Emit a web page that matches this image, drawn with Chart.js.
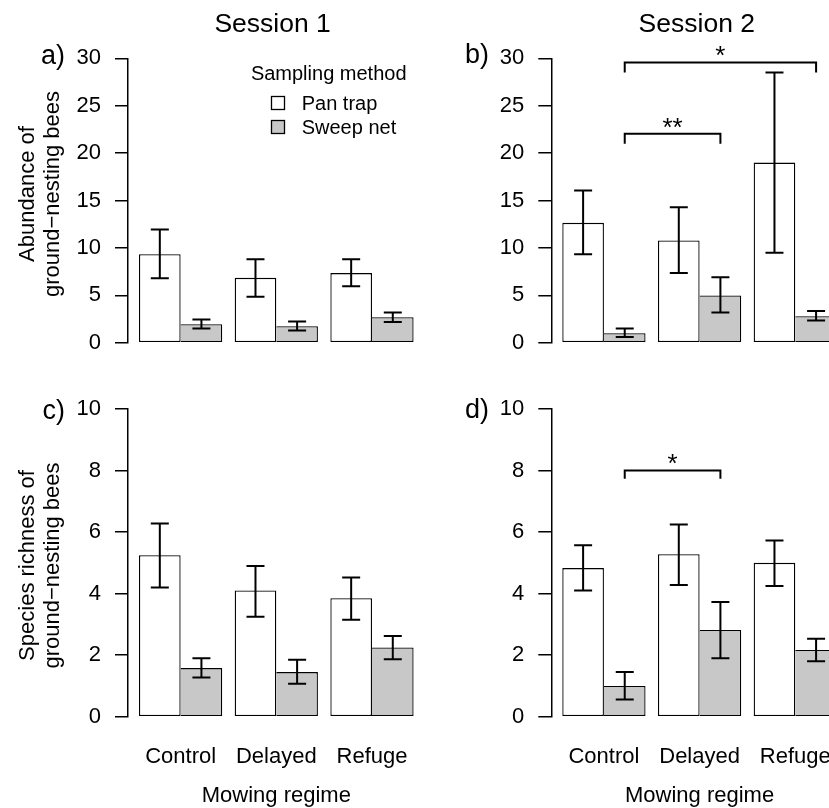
<!DOCTYPE html>
<html>
<head>
<meta charset="utf-8">
<script src="https://cdn.jsdelivr.net/npm/chart.js@4.4.0/dist/chart.umd.min.js"></script>
<style>
  html, body { margin: 0; padding: 0; background: #fff; overflow: hidden; }
  #wrap { position: relative; width: 829px; height: 808px; overflow: hidden; background: #fff; }
  canvas { position: absolute; }
</style>
</head>
<body>
<div id="wrap"></div>
<script>
// ---------- data ----------
const categories = ['Control', 'Delayed', 'Refuge'];
const seriesLabels = ['Pan trap', 'Sweep net'];
const yTicksAbundance = [0, 5, 10, 15, 20, 25, 30];
const yTicksRichness = [0, 2, 4, 6, 8, 10];

// a) Session 1 abundance
const abund1Pan = [9.35, 6.85, 7.35];
const abund1PanLo = [6.8, 4.85, 5.95];
const abund1PanHi = [11.95, 8.8, 8.8];
const abund1Sweep = [1.95, 1.75, 2.7];
const abund1SweepLo = [1.5, 1.3, 2.2];
const abund1SweepHi = [2.45, 2.25, 3.2];

// b) Session 2 abundance
const abund2Pan = [12.65, 10.8, 19.0];
const abund2PanLo = [9.35, 7.35, 9.5];
const abund2PanHi = [16.05, 14.3, 28.5];
const abund2Sweep = [1.0, 5.0, 2.8];
const abund2SweepLo = [0.6, 3.2, 2.35];
const abund2SweepHi = [1.5, 6.9, 3.35];

// c) Session 1 richness
const rich1Pan = [5.25, 4.1, 3.85];
const rich1PanLo = [4.2, 3.25, 3.15];
const rich1PanHi = [6.28, 4.9, 4.52];
const rich1Sweep = [1.58, 1.45, 2.25];
const rich1SweepLo = [1.27, 1.07, 1.87];
const rich1SweepHi = [1.9, 1.85, 2.62];

// d) Session 2 richness
const rich2Pan = [4.83, 5.28, 5.0];
const rich2PanLo = [4.1, 4.28, 4.25];
const rich2PanHi = [5.57, 6.25, 5.73];
const rich2Sweep = [1.0, 2.82, 2.17];
const rich2SweepLo = [0.56, 1.9, 1.8];
const rich2SweepHi = [1.45, 3.73, 2.53];

// significance brackets (sweep-net bars): from category, to category, bar level, tick end, label
const bracketsB = [
  { from: 0, to: 2, level: 29.55, drop: 28.5, label: '*' },
  { from: 0, to: 1, level: 22.05, drop: 21.0, label: '**' }
];
const bracketsD = [
  { from: 0, to: 1, level: 8.0, drop: 7.73, label: '*' }
];

// ---------- styling ----------
const FONT = "'Liberation Sans', Arial, Helvetica, sans-serif";
Chart.defaults.font.family = FONT;
Chart.defaults.color = '#000';
const PAN_COLOR = '#ffffff';
const SWEEP_COLOR = '#c8c8c8';

function errorBarsPlugin(errors, brackets) {
  return {
    id: 'errorBars',
    afterDatasetsDraw(chart) {
      const ctx = chart.ctx;
      const ys = chart.scales.y;
      ctx.save();
      ctx.strokeStyle = '#000';
      ctx.lineWidth = 2;
      ctx.lineCap = 'butt';
      const cap = 9;
      errors.forEach((err, di) => {
        const meta = chart.getDatasetMeta(di);
        meta.data.forEach((bar, i) => {
          const x = bar.x;
          const y1 = ys.getPixelForValue(err.lo[i]);
          const y2 = ys.getPixelForValue(err.hi[i]);
          ctx.beginPath();
          ctx.moveTo(x, y1); ctx.lineTo(x, y2);
          ctx.moveTo(x - cap, y1); ctx.lineTo(x + cap, y1);
          ctx.moveTo(x - cap, y2); ctx.lineTo(x + cap, y2);
          ctx.stroke();
        });
      });
      const sweepMeta = chart.getDatasetMeta(1);
      brackets.forEach(b => {
        const x1 = sweepMeta.data[b.from].x;
        const x2 = sweepMeta.data[b.to].x;
        const yl = ys.getPixelForValue(b.level);
        const yd = ys.getPixelForValue(b.drop);
        ctx.beginPath();
        ctx.moveTo(x1, yd); ctx.lineTo(x1, yl); ctx.lineTo(x2, yl); ctx.lineTo(x2, yd);
        ctx.stroke();
        const size = 26;
        ctx.font = size + 'px ' + FONT;
        ctx.fillStyle = '#000';
        ctx.textAlign = 'center';
        ctx.textBaseline = 'alphabetic';
        ctx.fillText(b.label, (x1 + x2) / 2, yl - 13 + 0.573 * size);
      });
      ctx.restore();
    }
  };
}

function decorPlugin(items, offX, offY, legend) {
  return {
    id: 'decor',
    afterDraw(chart) {
      const ctx = chart.ctx;
      ctx.save();
      ctx.fillStyle = '#000';
      ctx.textBaseline = 'alphabetic';
      items.forEach(t => {
        ctx.font = t.size + 'px ' + FONT;
        ctx.textAlign = t.align || 'center';
        if (t.rot) {
          ctx.save();
          ctx.translate(t.x - offX, t.y - offY);
          ctx.rotate(-Math.PI / 2);
          ctx.fillText(t.text, 0, 0);
          ctx.restore();
        } else {
          ctx.fillText(t.text, t.x - offX, t.y - offY);
        }
      });
      if (legend) {
        ctx.font = '20px ' + FONT;
        ctx.textAlign = 'center';
        ctx.fillText('Sampling method', 328.7 - offX, 79.5 - offY);
        ctx.textAlign = 'left';
        chart.data.datasets.forEach((ds, i) => {
          const by = 96.5 + i * 24 - offY;
          ctx.fillStyle = ds.backgroundColor;
          ctx.fillRect(271.5 - offX, by, 13, 13);
          ctx.strokeStyle = '#000';
          ctx.lineWidth = 1.3;
          ctx.strokeRect(271.5 - offX, by, 13, 13);
          ctx.fillStyle = '#000';
          ctx.fillText(ds.label, 301.7 - offX, by + 14 - 0.5 + 0);
        });
      }
      ctx.restore();
    }
  };
}

const panels = [
  { id: 'pa', left: 0, top: 0, w: 440, h: 370, area: { l: 128, r: 424.6, t: 58.3, b: 346.7 },
    pan: abund1Pan, panLo: abund1PanLo, panHi: abund1PanHi,
    sweep: abund1Sweep, sweepLo: abund1SweepLo, sweepHi: abund1SweepHi,
    yTicks: yTicksAbundance, bottomRow: false, brackets: [], legend: true,
    texts: [
      { text: 'Session 1', x: 272.6, y: 31.5, size: 26.5 },
      { text: 'a)', x: 65, y: 64, size: 27, align: 'right' },
      { text: 'Abundance of', x: 34, y: 194, size: 22, rot: true },
      { text: 'ground\u2212nesting bees', x: 59, y: 194, size: 22, rot: true }
    ] },
  { id: 'pb', left: 420, top: 0, w: 440, h: 370, area: { l: 131.3, r: 427.9, t: 58.3, b: 346.7 },
    pan: abund2Pan, panLo: abund2PanLo, panHi: abund2PanHi,
    sweep: abund2Sweep, sweepLo: abund2SweepLo, sweepHi: abund2SweepHi,
    yTicks: yTicksAbundance, bottomRow: false, brackets: bracketsB, legend: false,
    texts: [
      { text: 'Session 2', x: 696.8, y: 31.5, size: 26.5 },
      { text: 'b)', x: 489, y: 63, size: 27, align: 'right' }
    ] },
  { id: 'pc', left: 0, top: 370, w: 440, h: 438, area: { l: 128, r: 424.6, t: 39, b: 346.7 },
    pan: rich1Pan, panLo: rich1PanLo, panHi: rich1PanHi,
    sweep: rich1Sweep, sweepLo: rich1SweepLo, sweepHi: rich1SweepHi,
    yTicks: yTicksRichness, bottomRow: true, brackets: [], legend: false,
    texts: [
      { text: 'c)', x: 65, y: 419, size: 27, align: 'right' },
      { text: 'Species richness of', x: 34, y: 565.5, size: 22, rot: true },
      { text: 'ground\u2212nesting bees', x: 59, y: 565.5, size: 22, rot: true }
    ] },
  { id: 'pd', left: 420, top: 370, w: 440, h: 438, area: { l: 131.3, r: 427.9, t: 39, b: 346.7 },
    pan: rich2Pan, panLo: rich2PanLo, panHi: rich2PanHi,
    sweep: rich2Sweep, sweepLo: rich2SweepLo, sweepHi: rich2SweepHi,
    yTicks: yTicksRichness, bottomRow: true, brackets: bracketsD, legend: false,
    texts: [
      { text: 'd)', x: 489, y: 418, size: 27, align: 'right' }
    ] }
];

const wrap = document.getElementById('wrap');
const Y_AXIS_W = 128;

panels.forEach(p => {
  const cv = document.createElement('canvas');
  cv.id = p.id;
  cv.width = p.w; cv.height = p.h;
  cv.style.left = p.left + 'px';
  cv.style.top = p.top + 'px';
  cv.style.width = p.w + 'px';
  cv.style.height = p.h + 'px';
  wrap.appendChild(cv);

  const xHeight = p.h - p.area.b;
  const toXY = arr => arr.map((v, i) => ({ x: i + 1, y: v }));
  const yMin = p.yTicks[0];
  const yMax = p.yTicks[p.yTicks.length - 1];

  new Chart(cv, {
    type: 'bar',
    data: {
      datasets: [
        { label: seriesLabels[0], data: toXY(p.pan), backgroundColor: PAN_COLOR, borderColor: '#000',
          borderWidth: 1.3, borderSkipped: false, categoryPercentage: 0.87, barPercentage: 1.0 },
        { label: seriesLabels[1], data: toXY(p.sweep), backgroundColor: SWEEP_COLOR, borderColor: '#000',
          borderWidth: { top: 1.3, right: 1.3, bottom: 1.3, left: 0 }, borderSkipped: false,
          categoryPercentage: 0.87, barPercentage: 1.0 }
      ]
    },
    options: {
      responsive: false,
      animation: false,
      events: [],
      layout: { padding: { left: p.area.l - Y_AXIS_W, right: p.w - p.area.r, top: p.area.t, bottom: 0 } },
      plugins: { legend: { display: false }, tooltip: { enabled: false }, title: { display: false } },
      scales: {
        x: {
          type: 'linear',
          min: 0.45, max: 3.55,
          offset: false,
          afterBuildTicks: s => { s.ticks = categories.map((c, i) => ({ value: i + 1 })); },
          afterFit: s => { s.height = xHeight; },
          grid: { display: false, drawTicks: false },
          border: { display: false },
          ticks: {
            display: p.bottomRow, padding: 27, autoSkip: false, maxRotation: 0, minRotation: 0,
            font: { size: 22 },
            callback: v => categories[Math.round(v) - 1] || ''
          },
          title: { display: p.bottomRow, text: 'Mowing regime', font: { size: 22, lineHeight: 1.1 }, padding: 0 }
        },
        y: {
          min: yMin, max: yMax,
          afterBuildTicks: s => { s.ticks = p.yTicks.map(v => ({ value: v })); },
          afterFit: s => { s.width = Y_AXIS_W; },
          ticks: { padding: 14, font: { size: 22 }, callback: v => String(v) },
          grid: { drawOnChartArea: false, drawTicks: true, tickLength: 13, color: '#000', lineWidth: 1.5 },
          border: { display: true, color: '#000', width: 1.5 }
        }
      }
    },
    plugins: [
      errorBarsPlugin([
        { lo: p.panLo, hi: p.panHi },
        { lo: p.sweepLo, hi: p.sweepHi }
      ], p.brackets),
      decorPlugin(p.texts, p.left, p.top, p.legend)
    ]
  });
});
</script>
</body>
</html>
